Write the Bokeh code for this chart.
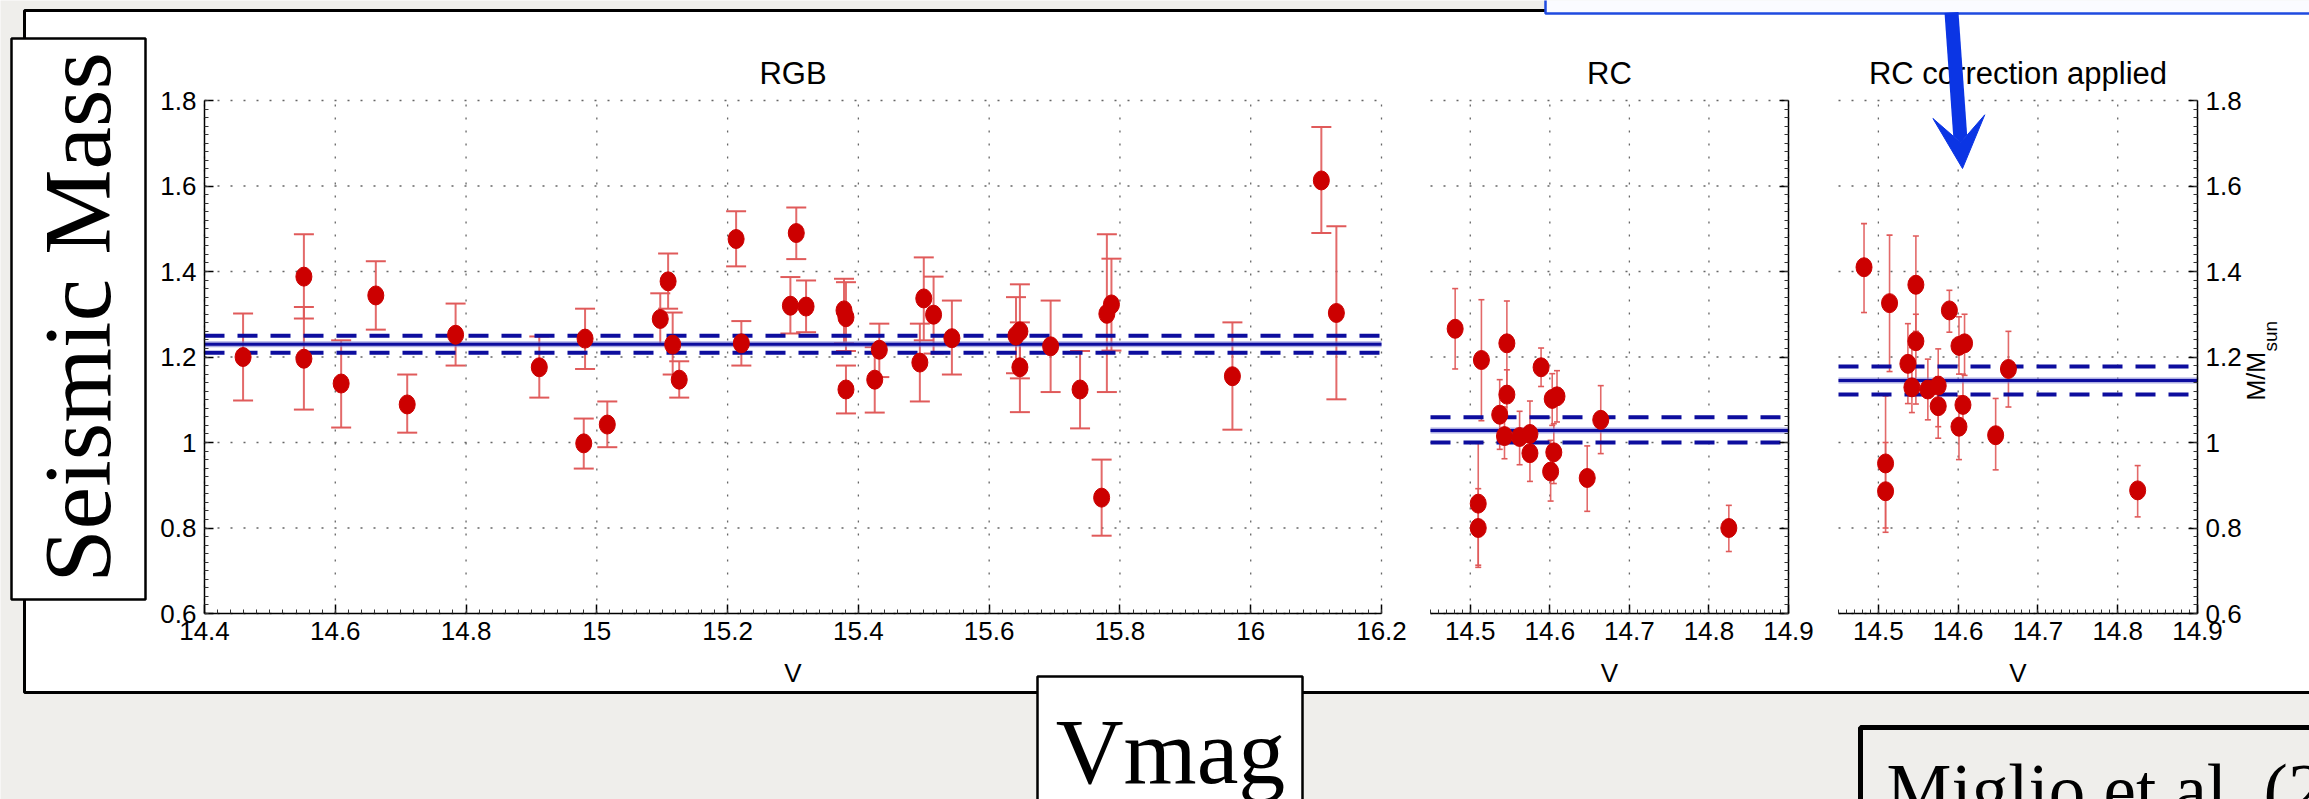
import numpy as np
from bokeh.plotting import figure
from bokeh.models import (Range1d, LinearAxis, FixedTicker, NumeralTickFormatter,
                          Whisker, TeeHead, ColumnDataSource, Arrow, VeeHead)
from bokeh.core.properties import value
from bokeh.embed import file_html
from bokeh.resources import INLINE

# ---------------- data ----------------
rgb_v = [14.459, 14.552, 14.552, 14.609, 14.662, 14.710, 14.784, 14.912, 14.982, 14.980,
         15.016, 15.097, 15.109, 15.116, 15.126, 15.213, 15.221, 15.305, 15.296, 15.320,
         15.378, 15.381, 15.381, 15.432, 15.425, 15.500, 15.515, 15.494, 15.543, 15.641,
         15.647, 15.647, 15.694, 15.739, 15.780, 15.787, 15.772, 15.972, 16.108, 16.131]
rgb_m = [1.200, 1.388, 1.196, 1.138, 1.344, 1.089, 1.252, 1.176, 1.243, 0.998,
         1.042, 1.289, 1.377, 1.229, 1.147, 1.476, 1.232, 1.490, 1.320, 1.318,
         1.309, 1.293, 1.124, 1.217, 1.147, 1.337, 1.299, 1.187, 1.244, 1.250,
         1.260, 1.176, 1.225, 1.124, 1.301, 1.323, 0.871, 1.155, 1.613, 1.303]
rgb_lo = [1.098, 1.290, 1.077, 1.035, 1.264, 1.023, 1.180, 1.105, 1.172, 0.939,
          0.989, 1.229, 1.313, 1.159, 1.105, 1.412, 1.180, 1.429, 1.255, 1.258,
          1.232, 1.214, 1.068, 1.153, 1.070, 1.239, 1.208, 1.096, 1.159, 1.162,
          1.150, 1.071, 1.118, 1.033, 1.118, 1.215, 0.782, 1.030, 1.490, 1.101]
rgb_hi = [1.302, 1.487, 1.317, 1.239, 1.424, 1.159, 1.325, 1.248, 1.313, 1.056,
          1.096, 1.349, 1.442, 1.304, 1.190, 1.541, 1.284, 1.550, 1.387, 1.379,
          1.383, 1.375, 1.180, 1.278, 1.223, 1.433, 1.388, 1.278, 1.332, 1.340,
          1.370, 1.281, 1.332, 1.214, 1.487, 1.430, 0.960, 1.281, 1.738, 1.506]

rc_v = [14.481, 14.514, 14.546, 14.546, 14.537, 14.543, 14.562, 14.575, 14.575, 14.589,
        14.603, 14.609, 14.605, 14.601, 14.647, 14.664, 14.510, 14.510, 14.825]
rc_m = [1.266, 1.193, 1.232, 1.112, 1.065, 1.015, 1.013, 1.020, 0.975, 1.176,
        1.102, 1.108, 0.977, 0.932, 0.917, 1.053, 0.857, 0.800, 0.800]
rc_lo = [1.172, 1.051, 1.130, 1.060, 0.984, 0.962, 0.948, 0.960, 0.909, 1.131,
         1.040, 1.048, 0.904, 0.863, 0.839, 0.974, 0.713, 0.708, 0.745]
rc_hi = [1.360, 1.334, 1.331, 1.170, 1.147, 1.083, 1.073, 1.097, 1.036, 1.221,
         1.161, 1.168, 1.044, 1.005, 0.992, 1.133, 0.998, 0.892, 0.853]

rcc_v = [14.482, 14.514, 14.547, 14.547, 14.537, 14.542, 14.562, 14.575, 14.575, 14.589,
         14.601, 14.608, 14.606, 14.601, 14.647, 14.663, 14.509, 14.509, 14.825]
rcc_m = [1.410, 1.326, 1.369, 1.237, 1.184, 1.129, 1.124, 1.133, 1.085, 1.309,
         1.226, 1.232, 1.088, 1.037, 1.017, 1.172, 0.951, 0.886, 0.888]
rcc_lo = [1.304, 1.166, 1.260, 1.090, 1.091, 1.070, 1.053, 1.037, 1.010, 1.258,
          1.160, 1.157, 1.030, 0.960, 0.936, 1.083, 0.800, 0.790, 0.826]
rcc_hi = [1.512, 1.485, 1.483, 1.300, 1.278, 1.222, 1.195, 1.219, 1.154, 1.356,
          1.294, 1.300, 1.160, 1.109, 1.103, 1.260, 1.000, 1.109, 0.946]

# mean mass and its uncertainty band: [mean, lower, upper]
rgb_ref = [1.230, 1.210, 1.250]
rc_ref = [1.028, 1.000, 1.059]
rcc_ref = [1.145, 1.112, 1.178]

mass_ticks = [0.6, 0.8, 1.0, 1.2, 1.4, 1.6, 1.8]
mass_tick_labels = ["0.6", "0.8", "1", "1.2", "1.4", "1.6", "1.8"]
rgb_ticks = [14.4, 14.6, 14.8, 15.0, 15.2, 15.4, 15.6, 15.8, 16.0, 16.2]
rgb_tick_labels = ["14.4", "14.6", "14.8", "15", "15.2", "15.4", "15.6", "15.8", "16", "16.2"]
rc_ticks = [14.5, 14.6, 14.7, 14.8, 14.9]
rc_tick_labels = ["14.5", "14.6", "14.7", "14.8", "14.9"]

panel_titles = ["RGB", "RC", "RC correction applied"]
x_label = "V"
y_label_main = "M/M"
y_label_sub = "sun"
slide_y_label = "Seismic Mass"
slide_x_label = "Vmag"
slide_ref = "Miglio et al. (2012)"

# ---------------- layout (pixels) ----------------
W, H = 2309, 799
BG = "#efeeeb"
BLUE = "#0b35e4"
NAVY = "#0d0d9e"
RED = "#cc0000"
ERR = "#e05a5a"
Y_TOP, Y_BOT = 100, 613
YMIN, YMAX = 0.6, 1.8
# name: (pixel left, pixel right, data min, data max)
PANELS = {
    "rgb": (204, 1381, 14.4, 16.2),
    "rc": (1430, 1788, 14.45, 14.9),
    "rcc": (1838, 2197, 14.45, 14.9),
}
DESC = 0.215  # text anchor offset (fraction of font size)

p = figure(width=W, height=H, x_range=Range1d(0, W), y_range=Range1d(H, 0),
           x_axis_location=None, y_axis_location=None, toolbar_location=None,
           output_backend="svg", min_border=0, outline_line_color=None,
           background_fill_color=BG, border_fill_color=BG)
p.xgrid.visible = False
p.ygrid.visible = False

sy = (YMAX - YMIN) / (Y_BOT - Y_TOP)
p.extra_y_ranges = {"mass": Range1d(YMIN - (H - Y_BOT) * sy, YMAX + Y_TOP * sy),
                    "up": Range1d(0, H)}
xr = {}
for name, (px0, px1, v0, v1) in PANELS.items():
    s = (v1 - v0) / (px1 - px0)
    xr[name] = Range1d(v0 - px0 * s, v0 + (W - px0) * s)
p.extra_x_ranges = xr

# ---------------- slide decorations ----------------
p.quad(left=[24], right=[2340], top=[10], bottom=[692], fill_color="white",
       line_color="black", line_width=3, level="image")
p.quad(left=[1545], right=[2340], top=[-20], bottom=[13], fill_color="#fafbff",
       line_color="#1f4be0", line_width=2.5, level="image")
p.quad(left=[11], right=[145], top=[38], bottom=[599], fill_color="white",
       line_color="black", line_width=2.5, level="image")
p.quad(left=[1037], right=[1302], top=[676], bottom=[840], fill_color="white",
       line_color="black", line_width=2.5, level="image")
p.quad(left=[1860], right=[2360], top=[727], bottom=[860], fill_color=None,
       line_color="black", line_width=5, level="image")

SERIF = value("Liberation Serif")
SANS = value("Liberation Sans")

p.text(x=[77], y=[H - 317], text=[slide_y_label], y_range_name="up", angle=np.pi / 2,
       text_font=SERIF, text_font_size="96px", text_align="center",
       text_baseline="alphabetic", text_color="black")
p.text(x=[1170], y=[771 - DESC * 94], text=[slide_x_label], text_font=SERIF,
       text_font_size="94px", text_align="center", text_baseline="alphabetic",
       text_color="black")
p.text(x=[1886], y=[806 - DESC * 73], text=[slide_ref], text_font=SERIF,
       text_font_size="73px", text_align="left", text_baseline="alphabetic",
       text_color="black")

# ---------------- panels ----------------
series = {
    "rgb": (rgb_v, rgb_m, rgb_lo, rgb_hi, rgb_ref, rgb_ticks, rgb_tick_labels, 20, 2.0),
    "rc": (rc_v, rc_m, rc_lo, rc_hi, rc_ref, rc_ticks, rc_tick_labels, 6, 1.6),
    "rcc": (rcc_v, rcc_m, rcc_lo, rcc_hi, rcc_ref, rc_ticks, rc_tick_labels, 6, 1.6),
}
minor_step = {"rgb": 0.02, "rc": 0.01, "rcc": 0.01}
TICK_FS = 26


def style_axis(ax, show_labels=True):
    ax.axis_line_color = "black"
    ax.axis_line_width = 1.5
    ax.major_tick_line_color = "black"
    ax.major_tick_line_width = 1.5
    ax.major_tick_in = 9
    ax.major_tick_out = 0
    ax.minor_tick_line_color = "#333333"
    ax.minor_tick_line_width = 1
    ax.minor_tick_in = 4
    ax.minor_tick_out = 0
    ax.major_label_text_font = "Liberation Sans"
    ax.major_label_text_font_size = f"{TICK_FS}px"
    ax.major_label_text_color = "black" if show_labels else None
    ax.major_label_standoff = 8


y_minor = [round(v, 3) for v in np.arange(YMIN, YMAX + 1e-9, 0.02)]

for idx, (name, (v, m, lo, hi, ref, ticks, labels, cap, ew)) in enumerate(series.items()):
    px0, px1, v0, v1 = PANELS[name]
    # dotted grid
    p.segment(x0=ticks, y0=[YMIN] * len(ticks), x1=ticks, y1=[YMAX] * len(ticks),
              x_range_name=name, y_range_name="mass", line_color="#666666",
              line_width=1.3, line_dash="2 11", level="image")
    p.segment(x0=[v0] * len(mass_ticks), y0=mass_ticks, x1=[v1] * len(mass_ticks),
              y1=mass_ticks, x_range_name=name, y_range_name="mass",
              line_color="#666666", line_width=1.3, line_dash="2 11", level="image")
    # error bars
    src = ColumnDataSource(dict(v=v, m=m, lo=lo, hi=hi))
    p.add_layout(Whisker(source=src, base="v", upper="hi", lower="lo", dimension="height",
                         x_range_name=name, y_range_name="mass",
                         line_color=ERR, line_width=ew, line_alpha=0.9,
                         upper_head=TeeHead(size=cap, line_color=ERR, line_width=ew),
                         lower_head=TeeHead(size=cap, line_color=ERR, line_width=ew)))
    # mean line and its band
    p.segment(x0=[v0], y0=[ref[0]], x1=[v1], y1=[ref[0]], x_range_name=name,
              y_range_name="mass", line_color="#7a7ad0", line_width=6, line_alpha=0.6)
    p.segment(x0=[v0], y0=[ref[0]], x1=[v1], y1=[ref[0]], x_range_name=name,
              y_range_name="mass", line_color=NAVY, line_width=3)
    p.segment(x0=[v0, v0], y0=ref[1:], x1=[v1, v1], y1=ref[1:], x_range_name=name,
              y_range_name="mass", line_color=NAVY, line_width=4, line_dash="20 13")
    # points
    p.ellipse(x="v", y="m", width=16, height=19, width_units="screen",
              height_units="screen", source=src, x_range_name=name,
              y_range_name="mass", fill_color=RED, line_color=RED, line_width=1)
    # title and x label
    mid = (v0 + v1) / 2
    p.text(x=[mid], y=[80 - DESC * 31], text=[panel_titles[idx]], x_range_name=name,
           text_font=SANS, text_font_size="31px", text_align="center",
           text_baseline="alphabetic", text_color="black")
    p.text(x=[mid], y=[678 - DESC * TICK_FS], text=[x_label], x_range_name=name,
           text_font=SANS, text_font_size=f"{TICK_FS}px", text_align="center",
           text_baseline="alphabetic", text_color="black")
    # bottom axis
    minor = [round(t, 3) for t in np.arange(v0, v1 + 1e-9, minor_step[name])]
    bx = LinearAxis(x_range_name=name, y_range_name="mass", fixed_location=YMIN,
                    bounds=(v0, v1),
                    ticker=FixedTicker(ticks=ticks, minor_ticks=minor),
                    formatter=NumeralTickFormatter(format="0.[0]"),
                    major_label_overrides=dict(zip(ticks, labels)))
    style_axis(bx)
    p.add_layout(bx, "below")

# left axis of the RGB panel
ly = LinearAxis(x_range_name="rgb", y_range_name="mass", fixed_location=14.4,
                bounds=(YMIN, YMAX),
                ticker=FixedTicker(ticks=mass_ticks, minor_ticks=y_minor),
                formatter=NumeralTickFormatter(format="0.[0]"),
                major_label_overrides=dict(zip(mass_ticks, mass_tick_labels)))
style_axis(ly)
p.add_layout(ly, "left")

# right axis of RC panel (no labels)
ry1 = LinearAxis(x_range_name="rc", y_range_name="mass", fixed_location=14.9,
                 bounds=(YMIN, YMAX),
                 ticker=FixedTicker(ticks=mass_ticks, minor_ticks=y_minor),
                 formatter=NumeralTickFormatter(format="0.[0]"))
style_axis(ry1, show_labels=False)
p.add_layout(ry1, "right")

# right axis of corrected panel
ry2 = LinearAxis(x_range_name="rcc", y_range_name="mass", fixed_location=14.9,
                 bounds=(YMIN, YMAX),
                 ticker=FixedTicker(ticks=mass_ticks, minor_ticks=y_minor),
                 formatter=NumeralTickFormatter(format="0.[0]"),
                 major_label_overrides=dict(zip(mass_ticks, mass_tick_labels)))
style_axis(ry2)
p.add_layout(ry2, "right")

# y label of the right axis: M/M_sun
p.text(x=[2255], y=[H - 400], text=[y_label_main], y_range_name="up", angle=np.pi / 2,
       text_font=SANS, text_font_size="25px", text_align="left",
       text_baseline="alphabetic", text_color="black")
p.text(x=[2270], y=[H - 351], text=[y_label_sub], y_range_name="up", angle=np.pi / 2,
       text_font=SANS, text_font_size="19px", text_align="left",
       text_baseline="alphabetic", text_color="black")

# blue arrow from the box above
p.add_layout(Arrow(end=VeeHead(size=52, fill_color=BLUE, line_color=BLUE, line_width=1),
                   x_start=1951, y_start=12, x_end=1962, y_end=168,
                   line_color=BLUE, line_width=14))

open("out.html", "w").write(file_html(p, INLINE))
